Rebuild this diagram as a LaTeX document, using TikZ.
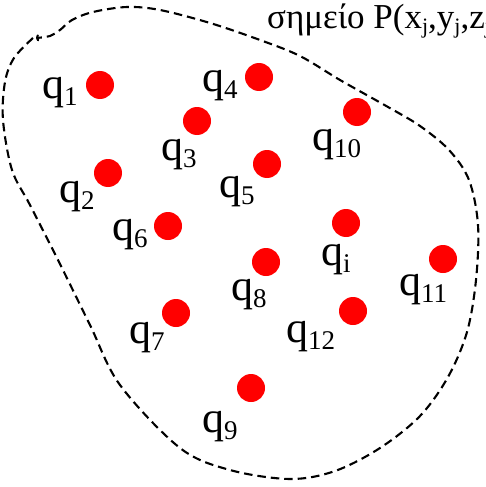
\documentclass[tikz,border=0pt]{standalone}
\usepackage{fontspec}
\setmainfont{Liberation Serif}
\usetikzlibrary{arrows.meta}
\tikzset{
	qdot/.style={circle, fill=red, inner sep=0pt, minimum size=28pt},
	qlabel/.style={anchor=base west, inner sep=0pt, font=\fontsize{44}{48}\selectfont},
	region/.style={dash pattern=on 8.5pt off 5pt, line width=2.1pt}
}
\newcommand{\qsub}[1]{\raisebox{-7pt}{\fontsize{27}{27}\selectfont #1}}
\newcommand{\psub}[1]{\raisebox{-5pt}{\fontsize{22}{22}\selectfont #1}}

\begin{document}
\begin{tikzpicture}[x=1pt, y=-1pt]
	\useasboundingbox (0,0) rectangle (486,487);
	\clip (0,0) rectangle (486,487);
	% dashed region boundary
	\draw[region, -{To[length=3pt, width=7pt]}] plot[smooth, tension=0.55] coordinates {
		(33,38) (14,58) (5,82) (3,120) (12,170) (30,205) (58,260) (90,325)
		(120,385) (180,448) (230,470) (290,479) (335,471) (380,448) (420,416)
		(448,377) (467,332) (476,280) (478,225) (469,180) (449,150) (420,126)
		(388,107) (340,80) (300,56) (260,40) (210,23) (160,10) (127,7) (93,12)
		(72,20) (60,30) (50,36) (36,38)};
	% label of the point
	\node[anchor=base west, inner sep=0pt, font=\fontsize{35}{40}\selectfont] (point) at (267,29)
		{σημείο P(x\psub{j},y\psub{j},z\psub{j})};
	% charges
	\node[qdot] (q1) at (100,85) {};
	\node[qdot] (q2) at (108,173) {};
	\node[qdot] (q3) at (197,121) {};
	\node[qdot] (q4) at (259,77) {};
	\node[qdot] (q5) at (267,164) {};
	\node[qdot] (q6) at (168,226) {};
	\node[qdot] (q7) at (176,313) {};
	\node[qdot] (q8) at (266,262) {};
	\node[qdot] (q9) at (251,388) {};
	\node[qdot] (q10) at (357,112) {};
	\node[qdot] (q11) at (443,259) {};
	\node[qdot] (q12) at (353,311) {};
	\node[qdot] (qi) at (346,223) {};
	% their labels
	\node[qlabel] (l1) at (42,98) {q\qsub{1}};
	\node[qlabel] (l2) at (59,202) {q\qsub{2}};
	\node[qlabel] (l3) at (161,160) {q\qsub{3}};
	\node[qlabel] (l4) at (202,92) {q\qsub{4}};
	\node[qlabel] (l5) at (219,197) {q\qsub{5}};
	\node[qlabel] (l6) at (112,240) {q\qsub{6}};
	\node[qlabel] (l7) at (129,343) {q\qsub{7}};
	\node[qlabel] (l8) at (231,300) {q\qsub{8}};
	\node[qlabel] (l9) at (202,432) {q\qsub{9}};
	\node[qlabel] (l10) at (312,150) {q\qsub{10}};
	\node[qlabel] (l11) at (399,295) {q\qsub{11}};
	\node[qlabel] (l12) at (286,342) {q\qsub{12}};
	\node[qlabel] (li) at (321,265) {q\qsub{i}};
\end{tikzpicture}
\end{document}
